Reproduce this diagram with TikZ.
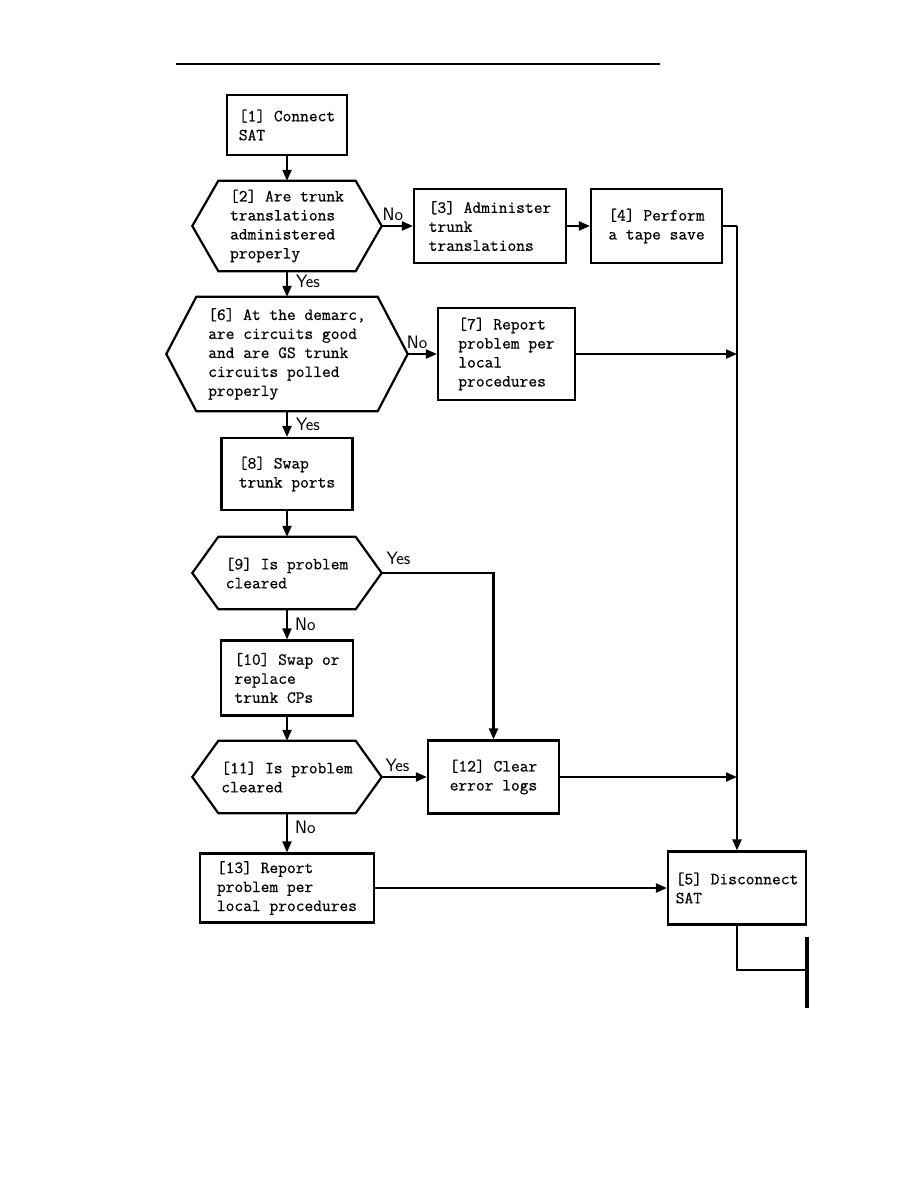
\documentclass[tikz,border=0pt]{standalone}
\usepackage{fontspec}
\usepackage{tikz}
\usetikzlibrary{arrows.meta}

\newfontfamily\flowfont[FakeBold=0.6]{Latin Modern Mono}

\tikzset{
  stepbox/.style={draw, line width=2.2pt, align=left, inner sep=0pt,
    font=\fontsize{17}{19}\selectfont\flowfont},
  ask/.style={align=left, inner sep=0pt, font=\fontsize{17}{19}\selectfont\flowfont},
  wire/.style={line width=2.2pt},
  arr/.style={line width=2.2pt, -{Triangle[length=11pt, width=9pt]}},
  lbl/.style={font=\fontsize{18}{20}\selectfont\sffamily, inner sep=2pt},
}

\begin{document}
\begin{tikzpicture}[x=1pt, y=-1pt]
  \useasboundingbox (0,0) rectangle (918,1188);
  \draw[line width=2.6pt] (176,64) -- (660,64);

  % main column
  \node[stepbox, minimum width=120, minimum height=60] (s1) at (287,125) {[1] Connect\\SAT};
  \node[ask, minimum width=189, minimum height=90] (q2) at (287,226)
    {[2] Are trunk\\translations\\administered\\properly};
  \node[ask, minimum width=241, minimum height=114] (q6) at (287,354)
    {[6] At the demarc,\\are circuits good\\and are GS trunk\\circuits polled\\properly};
  \node[stepbox, minimum width=131, minimum height=72] (s8) at (287,474) {[8] Swap\\trunk ports};
  \node[ask, minimum width=189, minimum height=72] (q9) at (287,573) {[9] Is problem\\cleared};
  \node[stepbox, minimum width=132, minimum height=75] (s10) at (287,678)
    {[10] Swap or\\replace\\trunk CPs};
  \node[ask, minimum width=189, minimum height=72] (q11) at (287,777) {[11] Is problem\\cleared};
  \node[stepbox, minimum width=174, minimum height=69] (s13) at (287,888)
    {[13] Report\\problem per\\local procedures};

  % right side
  \node[stepbox, minimum width=152, minimum height=74] (s3) at (490,226)
    {[3] Administer\\trunk\\translations};
  \node[stepbox, minimum width=131, minimum height=74] (s4) at (656.5,226) {[4] Perform\\a tape save};
  \node[stepbox, minimum width=137, minimum height=92] (s7) at (506.5,354)
    {[7] Report\\problem per\\local\\procedures};
  \node[stepbox, minimum width=131, minimum height=73] (s12) at (493.5,777) {[12] Clear\\error logs};
  \node[stepbox, minimum width=138, minimum height=73] (s5) at (737,888) {[5] Disconnect\\SAT};

  \foreach \q/\d in {q2/26, q6/30, q9/26, q11/26}
    \draw[wire] (\q.west) -- ([xshift=\d pt]\q.north west) -- ([xshift=-\d pt]\q.north east)
      -- (\q.east) -- ([xshift=-\d pt]\q.south east) -- ([xshift=\d pt]\q.south west) -- cycle;

  \draw[arr] (s1) -- (q2);
  \draw[arr] (q2) -- node[lbl, right=6pt, pos=0.4] {Yes} (q6);
  \draw[arr] (q6) -- node[lbl, right=6pt] {Yes} (s8);
  \draw[arr] (s8) -- (q9);
  \draw[arr] (q9) -- node[lbl, right=5pt] {No} (s10);
  \draw[arr] (s10) -- (q11);
  \draw[arr] (q11) -- node[lbl, right=5pt, pos=0.35] {No} (s13);

  \draw[arr] (q2) -- node[lbl, above=2pt, pos=0.36] {No} (s3);
  \draw[arr] (s3) -- (s4);
  \draw[arr] (q6) -- node[lbl, above=2pt, pos=0.32] {No} (s7);
  \draw[arr] (q9.east) -- node[lbl, above=5pt, pos=0.15] {Yes} (q9.east -| s12.north) -- (s12.north);
  \draw[arr] (q11) -- node[lbl, above=2pt, pos=0.35] {Yes} (s12);
  \draw[arr] (s13) -- (s5);

  % collecting line to [5]
  \draw[wire] (s4.east) -- (s4.east -| s5.north);
  \draw[arr] (s4.east -| s5.north) -- (s5.north);
  \draw[arr] (s7.east) -- (s7.east -| s5.north);
  \draw[arr] (s12.east) -- (s12.east -| s5.north);

  \coordinate (exit) at (807,970);
  \draw[wire] (s5.south) |- (exit);
  \draw[line width=4.5pt] (807,937) -- (807,1008);
\end{tikzpicture}
\end{document}
